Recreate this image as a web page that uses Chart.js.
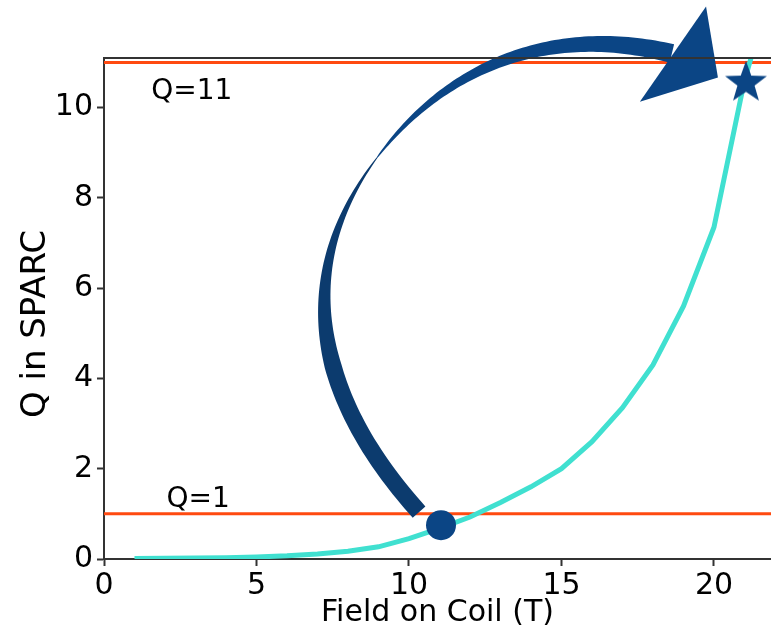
<!DOCTYPE html>
<html>
<head>
<meta charset="utf-8">
<script src="https://cdn.jsdelivr.net/npm/chart.js@4.4.0/dist/chart.umd.min.js"></script>
<style>
  html, body { margin: 0; padding: 0; background: #fff; }
  #wrap { width: 771px; height: 631px; }
</style>
</head>
<body>
<div id="wrap"><canvas id="qChart" width="771" height="631"></canvas></div>
<script>
// ------------------- DATOS -------------------
const field = [1, 2, 3, 4, 5, 6, 7, 8, 9, 10, 11, 12, 13, 14, 15, 16, 17, 18, 19, 20, 21, 21.3];
const qSparc = [0.01, 0.015, 0.02, 0.03, 0.045, 0.07, 0.11, 0.17, 0.27, 0.45, 0.68, 0.93, 1.25, 1.6, 2.0, 2.6, 3.35, 4.3, 5.6, 7.35, 10.6, 11.3];
const startPoint = { x: 11.05, y: 0.75 };   // punto de partida (círculo)
const goalPoint = { x: 21.05, y: 10.6 };    // objetivo (estrella)
const qLevels = [1, 11];
const qLabels = ['Q=1', 'Q=11'];
const qLabelPos = [{ x: 2.05, y: 1.16 }, { x: 1.55, y: 10.19 }];
const xTicks = [0, 5, 10, 15, 20];
const yTicks = [0, 2, 4, 6, 8, 10];

// flecha: dos tramos Bézier cúbicos en unidades de datos
const arrowCurves = [
  [[10.33, 1.04], [6.72, 3.75], [6.26, 6.47], [8.95, 8.89]],
  [[8.95, 8.89], [11.21, 10.93], [14.66, 11.86], [18.62, 11.20]]
];
const arrowHead = [[19.74, 12.24], [20.13, 10.67], [17.57, 10.13]];

const X_MAX = 21.87;
const Y_MAX = 11.1;
const FONT = '"DejaVu Sans", sans-serif';
const NAVY = '#0b4585';
const NAVY_DARK = '#0c3b6e';

// ------------------- FUNCIONES -------------------

// Estrella rellena para usar como pointStyle
function makeStar(rOut, rIn, color) {
  const c = document.createElement('canvas');
  const size = Math.ceil(rOut * 2 + 2);
  c.width = size; c.height = size;
  const g = c.getContext('2d');
  g.translate(size / 2, size / 2 + rOut * 0.1);
  g.beginPath();
  for (let i = 0; i < 10; i++) {
    const r = i % 2 === 0 ? rOut : rIn;
    const a = -Math.PI / 2 + i * Math.PI / 5;
    g.lineTo(r * Math.cos(a), r * Math.sin(a));
  }
  g.closePath();
  g.fillStyle = color;
  g.fill();
  return c;
}

// grosor de cada tramo según t
const widthFns = [
  t => t < 0.4 ? 17 : 17 - 16 * (t - 0.4) / 0.6,
  t => 1 + 18 * Math.pow(t, 0.8)
];

function bezier(p, t) {
  const u = 1 - t;
  return {
    x: u * u * u * p[0].x + 3 * u * u * t * p[1].x + 3 * u * t * t * p[2].x + t * t * t * p[3].x,
    y: u * u * u * p[0].y + 3 * u * u * t * p[1].y + 3 * u * t * t * p[2].y + t * t * t * p[3].y
  };
}

function fillBand(ctx, s, color) {
  const left = [], right = [];
  for (let i = 0; i < s.length; i++) {
    const a = s[Math.max(i - 1, 0)], b = s[Math.min(i + 1, s.length - 1)];
    const dx = b.x - a.x, dy = b.y - a.y;
    const len = Math.hypot(dx, dy) || 1;
    const nx = -dy / len, ny = dx / len, h = s[i].w / 2;
    left.push([s[i].x + nx * h, s[i].y + ny * h]);
    right.push([s[i].x - nx * h, s[i].y - ny * h]);
  }
  ctx.beginPath();
  left.forEach((p, i) => i ? ctx.lineTo(p[0], p[1]) : ctx.moveTo(p[0], p[1]));
  right.reverse().forEach(p => ctx.lineTo(p[0], p[1]));
  ctx.closePath();
  ctx.fillStyle = color;
  ctx.fill();
}

// Flecha curva dibujada con las escalas del gráfico
function drawArrow(chart) {
  const { ctx, scales: { x, y } } = chart;
  ctx.save();
  arrowCurves.forEach((curve, k) => {
    const p = curve.map(c => ({ x: x.getPixelForValue(c[0]), y: y.getPixelForValue(c[1]) }));
    const s = [];
    for (let i = 0; i <= 80; i++) {
      const t = i / 80;
      const b = bezier(p, t);
      b.w = widthFns[k](t);
      s.push(b);
    }
    fillBand(ctx, s, k === 0 ? NAVY_DARK : NAVY);
  });
  ctx.beginPath();
  arrowHead.forEach((p, i) => {
    const px = x.getPixelForValue(p[0]), py = y.getPixelForValue(p[1]);
    i ? ctx.lineTo(px, py) : ctx.moveTo(px, py);
  });
  ctx.closePath();
  ctx.fillStyle = NAVY;
  ctx.fill();
  ctx.restore();
}

const decorPlugin = {
  id: 'decor',
  afterDatasetDraw(chart, args) {
    if (chart.data.datasets[args.index].label === 'curve') drawArrow(chart);
  },
  afterDraw(chart) {
    const { ctx, chartArea, scales: { x, y } } = chart;
    ctx.save();
    // borde superior
    ctx.strokeStyle = '#333';
    ctx.lineWidth = 2;
    ctx.beginPath();
    ctx.moveTo(chartArea.left, chartArea.top);
    ctx.lineTo(chartArea.right, chartArea.top);
    ctx.stroke();
    // textos Q=1 / Q=11
    ctx.fillStyle = '#000';
    ctx.font = '28px ' + FONT;
    ctx.textBaseline = 'alphabetic';
    ctx.textAlign = 'left';
    qLabels.forEach((t, i) => ctx.fillText(t, x.getPixelForValue(qLabelPos[i].x), y.getPixelForValue(qLabelPos[i].y)));
    // título del eje Y
    ctx.translate(36, 324);
    ctx.rotate(-Math.PI / 2);
    ctx.textAlign = 'center';
    ctx.textBaseline = 'middle';
    ctx.font = '34px ' + FONT;
    ctx.fillText('Q in SPARC', 0, 0);
    ctx.restore();
  }
};

// ------------------- GRÁFICO -------------------
const levelSets = qLevels.map(q => ({
  label: 'Q=' + q,
  data: [{ x: 0, y: q }, { x: X_MAX, y: q }],
  borderColor: '#ff4a10',
  borderWidth: 3,
  pointRadius: 0,
  order: 3
}));

new Chart(document.getElementById('qChart').getContext('2d'), {
  type: 'line',
  data: {
    datasets: [
      {
        label: 'start',
        data: [startPoint],
        showLine: false,
        pointStyle: 'circle',
        pointRadius: 15,
        backgroundColor: NAVY,
        borderWidth: 0,
        order: 0
      },
      {
        label: 'goal',
        data: [goalPoint],
        showLine: false,
        pointStyle: makeStar(22, 9, NAVY),
        pointRadius: 22,
        order: 0
      },
      {
        label: 'curve',
        data: field.map((f, i) => ({ x: f, y: qSparc[i] })),
        borderColor: '#40e0d0',
        borderWidth: 5,
        pointRadius: 0,
        tension: 0,
        order: 1
      },
      ...levelSets
    ]
  },
  options: {
    responsive: false,
    animation: false,
    layout: { autoPadding: false, padding: { top: 58, right: 0, left: 0, bottom: 0 } },
    plugins: { legend: { display: false }, tooltip: { enabled: false } },
    scales: {
      x: {
        type: 'linear',
        min: 0,
        max: X_MAX,
        afterBuildTicks: s => { s.ticks = xTicks.map(v => ({ value: v })); },
        afterFit: s => { s.height = 72; s.paddingLeft = 0; s.paddingRight = 0; },
        ticks: { color: '#000', font: { family: FONT, size: 30 }, padding: 2, maxRotation: 0 },
        grid: { drawOnChartArea: false, drawTicks: true, tickLength: 7, tickWidth: 2, tickColor: '#333' },
        border: { display: true, color: '#333', width: 2 },
        title: { display: true, text: 'Field on Coil (T)', color: '#000', font: { family: FONT, size: 30 }, padding: { top: 0, bottom: 0 } }
      },
      y: {
        min: 0,
        max: Y_MAX,
        afterBuildTicks: s => { s.ticks = yTicks.map(v => ({ value: v })); },
        afterFit: s => { s.width = 104; s.paddingTop = 0; s.paddingBottom = 0; },
        ticks: { color: '#000', font: { family: FONT, size: 30 }, padding: 4 },
        grid: { drawOnChartArea: false, drawTicks: true, tickLength: 7, tickWidth: 2, tickColor: '#333' },
        border: { display: true, color: '#333', width: 2 }
      }
    }
  },
  plugins: [decorPlugin]
});
</script>
</body>
</html>
